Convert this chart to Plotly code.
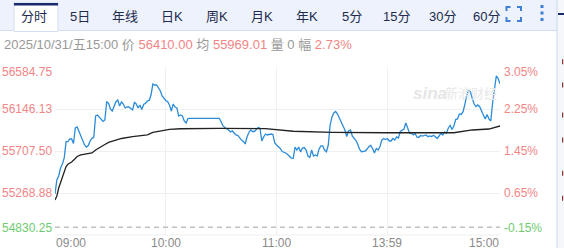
import pandas as pd
import plotly.graph_objects as go

# ---------------- data ----------------
session_parts = [("09:00", "11:30"), ("13:30", "15:00")]
times = []
for a, b in session_parts:
    times += [t.strftime("%H:%M") for t in pd.date_range("2025-10-31 " + a, "2025-10-31 " + b, freq="1min")]

price = [
    55258, 55405, 55447, 55530, 55572, 55635, 55805, 55805, 55833, 55833,
    55786, 55948, 55958, 55909, 55854, 55812, 55770, 55749, 55765, 55812,
    55840, 55850, 56073, 56083, 56063, 56036, 56016, 56031, 56219, 56206,
    56146, 56125, 56167, 56222, 56240, 56177, 56219, 56198, 56157, 56167,
    56167, 56146, 56136, 56214, 56198, 56157, 56188, 56141, 56193, 56206,
    56230, 56235, 56292, 56407, 56397, 56397, 56365, 56337, 56282, 56256,
    56235, 56222, 56188, 56125, 56198, 56167, 56157, 56073, 56083, 56073,
    56021, 56000, 56047, 56049, 56049, 56049, 56049, 56049, 56049, 56049,
    56049, 56049, 56049, 56049, 56049, 56049, 56049, 56049, 56049, 56049,
    56010, 55969, 55953, 55943, 55927, 55906, 55917, 55896, 55875, 55870,
    55843, 55822, 55807, 55781, 55854, 55901, 55927, 55911, 55911, 55927,
    55953, 55945, 55812, 55854, 55885, 55875, 55880, 55885, 55880, 55791,
    55770, 55752, 55734, 55702, 55697, 55687, 55671, 55657, 55634, 55631,
    55749, 55718, 55749, 55697, 55739, 55744, 55718, 55655, 55640, 55718,
    55655, 55666, 55655, 55728, 55760, 55760, 55718, 55700, 55770, 55979,
    56063, 56104, 56120, 56094, 56047, 56013, 55969, 55927, 55859, 55917,
    55927, 55864, 55843, 55817, 55775, 55723, 55700, 55700, 55707, 55728,
    55754, 55765, 55734, 55687, 55734, 55718, 55754, 55822, 55838, 55828,
    55838, 55812, 55812, 55838, 55822, 55854, 55843, 55911, 55922, 55937,
    56000, 55937, 55896, 55893, 55875, 55891, 55854, 55849, 55870, 55864,
    55870, 55875, 55857, 55864, 55859, 55872, 55857, 55838, 55864, 55891,
    55875, 55906, 55893, 55948, 55974, 55932, 55969, 56036, 56042, 56094,
    56089, 56118, 56198, 56292, 56344, 56324, 56256, 56198, 56172, 56188,
    56170, 56118, 56083, 56042, 56089, 56042, 56021, 56209, 56371, 56491,
    56465, 56410,
]

avg_times = ["09:00", "09:01", "09:02", "09:03", "09:04", "09:05", "09:06", "09:07", "09:09", "09:11",
             "09:12", "09:14", "09:17", "09:20", "09:22", "09:24", "09:27", "09:29", "09:32", "09:36",
             "09:42", "09:50", "09:53", "09:57", "10:02", "10:08", "10:15", "10:29", "10:54", "11:09",
             "11:30", "13:39", "13:59", "14:35", "14:42", "14:45", "14:54", "14:58", "15:00"]
avg_values = [55196, 55237, 55321, 55384, 55436, 55499, 55546, 55569, 55593, 55629,
              55650, 55666, 55673, 55687, 55718, 55744, 55775, 55798, 55812, 55838,
              55857, 55875, 55901, 55919, 55934, 55940, 55942, 55943, 55942, 55914,
              55903, 55901, 55898, 55898, 55916, 55927, 55937, 55955, 55969]

prev_close = 54912
y_ticks = [56584.75, 56146.13, 55707.50, 55268.88, 54830.25]
y_tick_labels = ["56584.75", "56146.13", "55707.50", "55268.88", "54830.25"]
pct_tick_labels = ["3.05%", "2.25%", "1.45%", "0.65%", "-0.15%"]
x_tick_labels = ["09:00", "10:00", "11:00", "13:59", "15:00"]
tabs = ["分时", "5日", "年线", "日K", "周K", "月K", "年K", "5分", "15分", "30分", "60分"]
info = {"date": "2025/10/31/五15:00", "price": "56410.00", "avg": "55969.01", "vol": "0", "chg": "2.73%"}

# ---------------- layout helpers ----------------
W, H = 564, 248
L, R, T, B = 55, 64, 67, 13
PW, PH = W - L - R, H - T - B


def px(x):
    return (x - L) / PW


def py(y):
    return 1 - (y - T) / PH


RED = "#f28585"
GREEN = "#6fcb6f"
GRAY = "#999999"
CJK = "Liberation Sans, Arial, Noto Sans CJK SC"

fig = go.Figure()
fig.add_trace(go.Scatter(x=times, y=price, mode="lines",
                         line=dict(color="#2b8bd8", width=1.3), hoverinfo="skip"))
fig.add_trace(go.Scatter(x=avg_times, y=avg_values, mode="lines",
                         line=dict(color="#222222", width=1.3), hoverinfo="skip"))

shapes = []
ann = []

# prev close dashed line
shapes.append(dict(type="line", xref="paper", yref="y", x0=0, x1=1, y0=prev_close, y1=prev_close,
                   line=dict(color="#a0a0a0", width=1, dash="5px,4px")))
# bottom border line of plot
shapes.append(dict(type="line", xref="paper", yref="paper", x0=0, x1=1, y0=0, y1=0,
                   line=dict(color="#eeeeee", width=1)))

# tab bar
shapes.append(dict(type="rect", xref="paper", yref="paper", x0=px(0), x1=px(557), y0=py(30.5), y1=py(0),
                   fillcolor="#edf2fc", line=dict(width=0), layer="below"))
shapes.append(dict(type="line", xref="paper", yref="paper", x0=px(0), x1=px(557), y0=py(30.5), y1=py(30.5),
                   line=dict(color="#d4def2", width=1)))
# active tab
shapes.append(dict(type="rect", xref="paper", yref="paper", x0=px(14), x1=px(58), y0=py(31.5), y1=py(3),
                   fillcolor="#ffffff", line=dict(color="#d4def2", width=1)))
shapes.append(dict(type="rect", xref="paper", yref="paper", x0=px(14), x1=px(58), y0=py(5.5), y1=py(3),
                   fillcolor="#1b2b6e", line=dict(width=0)))
# right panel edge
shapes.append(dict(type="rect", xref="paper", yref="paper", x0=px(557), x1=px(565), y0=py(249), y1=py(0),
                   fillcolor="#f5f7fb", line=dict(width=0)))
shapes.append(dict(type="line", xref="paper", yref="paper", x0=px(557), x1=px(557), y0=py(249), y1=py(0),
                   line=dict(color="#cbd8ee", width=1)))
shapes.append(dict(type="line", xref="paper", yref="paper", x0=px(558), x1=px(565), y0=py(14), y1=py(14),
                   line=dict(color="#1b2b6e", width=2)))
for yy in [61.7, 85, 115, 140, 173.3, 198.3]:
    shapes.append(dict(type="rect", xref="paper", yref="paper", x0=px(562), x1=px(563.2),
                       y0=py(yy + 2.5), y1=py(yy - 2.5), fillcolor="#8a3434", line=dict(width=0)))

# fullscreen icon
bx0, bx1, by0, by1, c = 506.5, 521, 7, 21, 4
def P(x, y):
    return f"{px(x):.5f},{py(y):.5f}"
icon = (f"M{P(bx0, by0 + c)} L{P(bx0, by0)} L{P(bx0 + c, by0)} "
        f"M{P(bx1 - c, by0)} L{P(bx1, by0)} L{P(bx1, by0 + c)} "
        f"M{P(bx1, by1 - c)} L{P(bx1, by1)} L{P(bx1 - c, by1)} "
        f"M{P(bx0 + c, by1)} L{P(bx0, by1)} L{P(bx0, by1 - c)}")
shapes.append(dict(type="path", xref="paper", yref="paper", path=icon,
                   line=dict(color="#3f7fd6", width=2)))
for yy in [6.5, 13, 19.5]:
    shapes.append(dict(type="rect", xref="paper", yref="paper", x0=px(540.5), x1=px(543.5),
                       y0=py(yy + 1.5), y1=py(yy - 1.5), fillcolor="#3f7fd6", line=dict(width=0)))

# tab labels
tab_x = [34, 80, 125, 172, 217, 262, 307, 351.5, 396.5, 442, 486]
for t, xx in zip(tabs, tab_x):
    ann.append(dict(text=t, xref="paper", yref="paper", x=px(xx), y=py(16.5), xanchor="center",
                    yanchor="middle", showarrow=False,
                    font=dict(size=13, color="#222a4d", family="Liberation Sans, Noto Sans CJK SC")))

# info line
info_text = (f"<span style='color:{GRAY}'>{info['date']} 价 </span>"
             f"<span style='color:{RED}'>{info['price']}</span>"
             f"<span style='color:{GRAY}'> 均 </span>"
             f"<span style='color:{RED}'>{info['avg']}</span>"
             f"<span style='color:{GRAY}'> 量 {info['vol']} 幅 </span>"
             f"<span style='color:{RED}'>{info['chg']}</span>")
ann.append(dict(text=info_text, xref="paper", yref="paper", x=px(2), y=py(44.5), xanchor="left",
                yanchor="middle", showarrow=False, font=dict(size=13, family=CJK)))

# watermark
ann.append(dict(text="<b><i>sina</i></b>", xref="paper", yref="paper", x=px(430), y=py(93),
                xanchor="center", yanchor="middle", showarrow=False,
                font=dict(size=17, color="#e6e6e6", family="Liberation Sans")))
ann.append(dict(text="新浪财经", xref="paper", yref="paper", x=px(471), y=py(92),
                xanchor="center", yanchor="middle", showarrow=False,
                font=dict(size=13, color="#e8e8e8", family="Noto Sans CJK SC")))

# y tick labels
n = len(y_ticks)
for i, (v, lab, pl) in enumerate(zip(y_ticks, y_tick_labels, pct_tick_labels)):
    col = GREEN if i == n - 1 else RED
    shift = -5 if i == 0 else (7 if i == n - 1 else 0)
    ann.append(dict(text=lab, xref="paper", yref="y", x=px(54), y=v, xanchor="right", yanchor="middle",
                    yshift=shift, showarrow=False, font=dict(size=12, color=col, family=CJK)))
    ann.append(dict(text=pl, xref="paper", yref="y", x=px(501.5), y=v, xanchor="left", yanchor="middle",
                    yshift=shift, showarrow=False, font=dict(size=12, color=col, family=CJK)))

# x tick labels
for i, lab in enumerate(x_tick_labels):
    anchor = "left" if i == 0 else ("right" if i == len(x_tick_labels) - 1 else "center")
    ann.append(dict(text=lab, xref="x", yref="paper", x=lab, y=py(242.5), xanchor=anchor,
                    yanchor="middle", showarrow=False, borderpad=0,
                    font=dict(size=12, color="#8a8a8a", family=CJK)))

fig.update_layout(
    width=W, height=H, margin=dict(l=L, r=R, t=T, b=B),
    paper_bgcolor="#ffffff", plot_bgcolor="#ffffff", showlegend=False,
    shapes=shapes, annotations=ann,
    font=dict(family=CJK),
    xaxis=dict(type="category", categoryorder="array", categoryarray=times,
               range=[0, len(times) - 1], tickvals=x_tick_labels[1:-1], showticklabels=False,
               showgrid=True, gridcolor="#f0f0f0", gridwidth=1, zeroline=False, showline=False, ticks=""),
    yaxis=dict(range=[y_ticks[-1], y_ticks[0]], tickvals=y_ticks, showticklabels=False,
               showgrid=True, gridcolor="#f0f0f0", gridwidth=1, zeroline=False, showline=False, ticks=""),
)

fig.write_html("out.html", config={"displayModeBar": False})
